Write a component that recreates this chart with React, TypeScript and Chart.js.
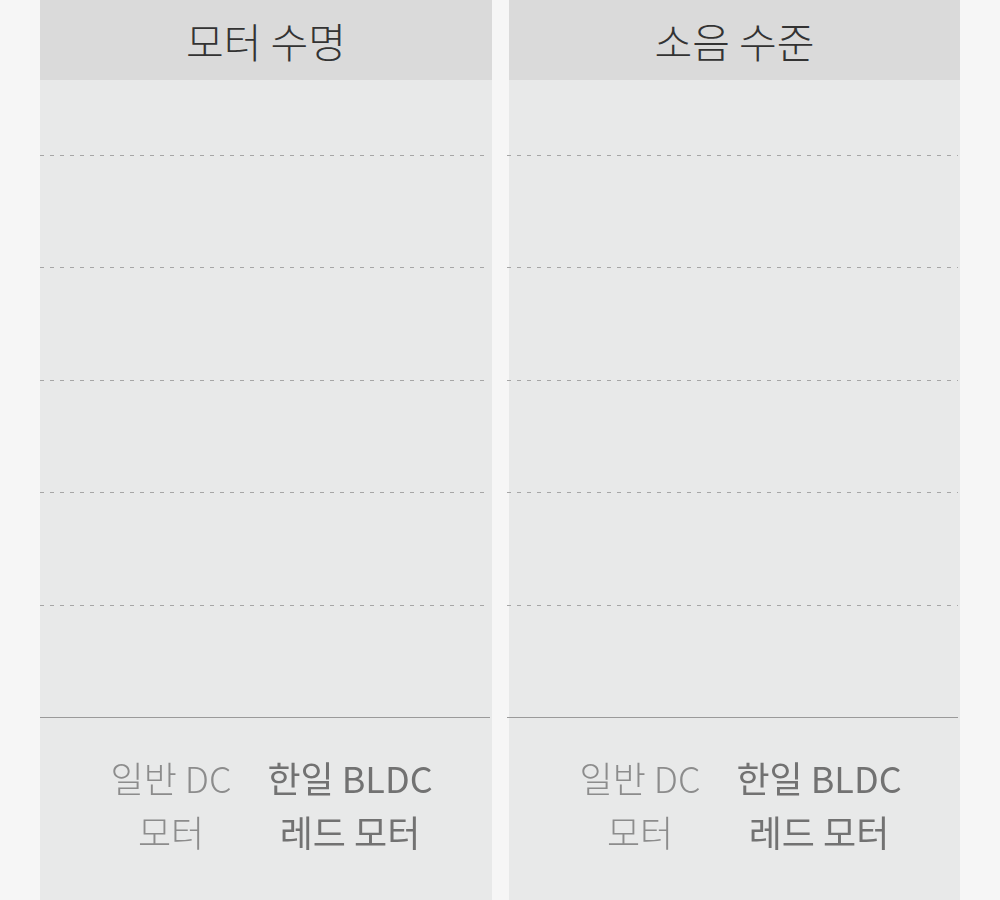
import React, { useEffect, useRef } from 'react';
import { Chart, registerables } from 'chart.js';

Chart.register(...registerables);

// data: no bars are visible, so both series sit at zero
const categories = [
  ['일반 DC', '모터'],
  ['한일 BLDC', '레드 모터'],
];
const lifespanValues = [0, 0];
const noiseValues = [0, 0];
const panelTitles = ['모터 수명', '소음 수준'];
const yMax = 6;

const FONT = "'Noto Sans CJK KR', 'Noto Sans', sans-serif";

// grid lines run across the whole canvas, not only the chart area
const fullWidthGrid = {
  id: 'fullWidthGrid',
  beforeDatasetsDraw(chart: any, _args: any, opts: any) {
    const { ctx, width } = chart;
    const y = chart.scales.y;
    const shift = opts.shift || 0;
    ctx.save();
    // the top line sits under the header, so it is left out
    for (let v = 0; v < yMax; v++) {
      const py = Math.round(y.getPixelForValue(v)) + 0.5;
      ctx.beginPath();
      if (v === 0) {
        ctx.setLineDash([]);
        ctx.strokeStyle = '#9a9a9a';
      } else {
        ctx.setLineDash([4, 6]);
        ctx.strokeStyle = '#a6a6a6';
      }
      ctx.lineWidth = 1;
      ctx.moveTo(0, py);
      ctx.lineTo(width - 2 + shift, py);
      ctx.stroke();
    }
    ctx.restore();
  },
};

const Panel: React.FC<{ title: string; values: number[]; left: number; width: number; shift: number }> = ({
  title,
  values,
  left,
  width,
  shift,
}) => {
  const canvasRef = useRef<HTMLCanvasElement>(null);

  useEffect(() => {
    if (!canvasRef.current) return;
    const chart = new Chart(canvasRef.current, {
      type: 'bar',
      data: {
        labels: categories,
        datasets: [
          {
            data: values,
            backgroundColor: ['#b5b5b5', '#c8312f'],
            borderWidth: 0,
          },
        ],
      },
      options: {
        responsive: false,
        maintainAspectRatio: false,
        animation: false,
        layout: {
          padding: { top: 42.6, bottom: 5, left: 41.5 + shift, right: width - 399.5 - shift },
        },
        plugins: {
          legend: { display: false },
          tooltip: { enabled: false },
          fullWidthGrid: { shift },
        } as any,
        scales: {
          x: {
            offset: true,
            grid: { display: false, drawTicks: false },
            border: { display: false },
            ticks: {
              padding: 35,
              maxRotation: 0,
              autoSkip: false,
              color: (c: any) => (c.index === 1 ? '#727272' : '#8c8c8c'),
              font: (c: any) => ({
                family: FONT,
                size: 36,
                weight: c.index === 1 ? 400 : 300,
                lineHeight: 54 / 36,
              }),
            },
          },
          y: {
            min: 0,
            max: yMax,
            grid: { display: false, drawTicks: false },
            border: { display: false },
            ticks: { display: false, stepSize: 1 },
          },
        },
      },
      plugins: [fullWidthGrid],
    });
    return () => {
      chart.destroy();
    };
  }, [values, width, shift]);

  return (
    <div
      style={{
        position: 'absolute',
        left,
        top: 0,
        width,
        height: 900,
        background: '#e8e9e9',
      }}
    >
      <canvas
        ref={canvasRef}
        width={width}
        height={900}
        style={{ display: 'block', position: 'absolute', left: -shift, top: 0 }}
      />
      <div
        style={{
          position: 'absolute',
          left: 0,
          top: 0,
          width,
          height: 80,
          background: '#dadada',
          color: '#333',
          fontFamily: FONT,
          fontSize: 41,
          fontWeight: 300,
          lineHeight: '80px',
          textAlign: 'center',
        }}
      >
        {title}
      </div>
    </div>
  );
};

const App: React.FC = () => {
  return (
    <div
      style={{
        position: 'fixed',
        left: 0,
        top: 0,
        width: 1000,
        height: 900,
        background: '#f6f6f6',
        overflow: 'hidden',
      }}
    >
      <Panel title={panelTitles[0]} values={lifespanValues} left={40} width={452} shift={0} />
      <Panel title={panelTitles[1]} values={noiseValues} left={509} width={451} shift={2} />
    </div>
  );
};

export default App;
